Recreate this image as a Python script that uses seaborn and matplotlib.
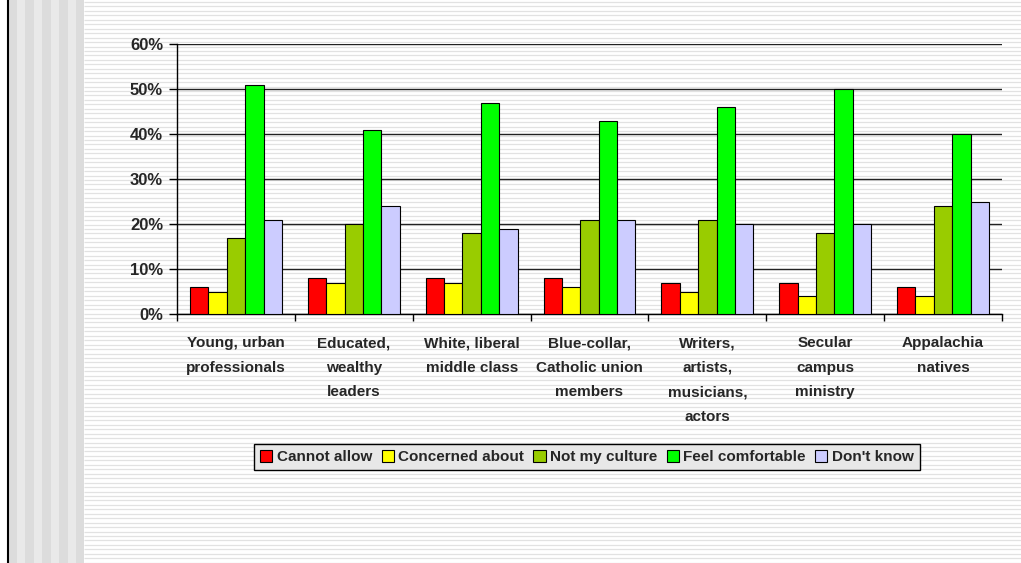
import numpy as np
import pandas as pd
import matplotlib
matplotlib.use("Agg")
import matplotlib.pyplot as plt
import seaborn as sns
from matplotlib.patches import Rectangle
from matplotlib.ticker import FuncFormatter, FixedLocator

categories = ["Young, urban\nprofessionals", "Educated,\nwealthy\nleaders",
              "White, liberal\nmiddle class", "Blue-collar,\nCatholic union\nmembers",
              "Writers,\nartists,\nmusicians,\nactors", "Secular\ncampus\nministry",
              "Appalachia\nnatives"]
series = ["Cannot allow", "Concerned about", "Not my culture", "Feel comfortable", "Don't know"]
cannot_allow = [6, 8, 8, 8, 7, 7, 6]
concerned_about = [5, 7, 7, 6, 5, 4, 4]
not_my_culture = [17, 20, 18, 21, 21, 18, 24]
feel_comfortable = [51, 41, 47, 43, 46, 50, 40]
dont_know = [21, 24, 19, 21, 20, 20, 25]
colors = ["#FF0000", "#FFFF00", "#99CC00", "#00FF00", "#CCCCFF"]
yticks = [0, 10, 20, 30, 40, 50, 60]

rows = []
for s, vals in zip(series, [cannot_allow, concerned_about, not_my_culture, feel_comfortable, dont_know]):
    for c, v in zip(categories, vals):
        rows.append({"category": c, "series": s, "value": v})
df = pd.DataFrame(rows)

sns.set_style("white")
plt.rcParams['font.family'] = ['Liberation Sans', 'DejaVu Sans']

W, H = 1021, 563
fig = plt.figure(figsize=(W / 100, H / 100), dpi=100)
fig.patch.set_facecolor("white")

# background slide decoration
bg = fig.add_axes([0, 0, 1, 1], zorder=-10)
bg.set_xlim(0, W)
bg.set_ylim(H, 0)
bg.axis("off")
x = 8
dark = True
while x < 84:
    w = 9 if dark else 8
    bg.add_patch(Rectangle((x, 0), min(w, 84 - x), H, color="#dcdcdc" if dark else "#e9e9e9", lw=0))
    x += w
    dark = not dark
bg.plot([7.5, 7.5], [0, H], color="black", lw=1.5)
for yy in np.arange(2, H, 4.45):
    bg.plot([84, W], [yy, yy], color="#e2e2e2", lw=0.9, solid_capstyle="butt")

ax = fig.add_axes([177 / W, 1 - 314 / H, (1002 - 177) / W, (314 - 44) / H])
ax.set_facecolor("none")
sns.barplot(data=df, x="category", y="value", hue="series", palette=colors,
            width=0.78, edgecolor="black", linewidth=0.8, ax=ax, legend=True,
            saturation=1, zorder=3)
ax.set_ylim(0, 60)
ax.set_xlim(-0.5, len(categories) - 0.5)
ax.set_yticks(yticks)
ax.yaxis.set_major_formatter(FuncFormatter(lambda v, p: f"{int(v)}%"))
ax.yaxis.grid(True, color="#222222", lw=1.0, zorder=0)
ax.set_axisbelow(True)
for sp in ["top", "right"]:
    ax.spines[sp].set_visible(False)
ax.spines["left"].set_color("black")
ax.spines["bottom"].set_color("black")
ax.spines["left"].set_linewidth(1.0)
ax.spines["bottom"].set_linewidth(1.0)
ax.set_xlabel("")
ax.set_ylabel("")
ax.tick_params(axis="y", which="both", left=True, length=6, width=1, color="black",
               labelsize=12, pad=4)
for t in ax.get_yticklabels():
    t.set_fontweight("bold")
# x ticks at category boundaries, labels centered
ax.set_xticks(np.arange(len(categories)))
ax.set_xticklabels(categories, fontsize=11, fontweight="bold", linespacing=1.95)
ax.tick_params(axis="x", which="major", length=0, pad=16)
ax.xaxis.set_minor_locator(FixedLocator(np.arange(-0.5, len(categories), 1.0)))
ax.tick_params(axis="x", which="minor", bottom=True, length=5, width=1, color="black")
for t in ax.get_xticklabels():
    t.set_va("top")

handles, labels = ax.get_legend_handles_labels()
ax.legend_.remove()
leg = fig.legend(handles, labels, loc="center", bbox_to_anchor=(587 / W, 1 - 457 / H),
                 ncol=5, frameon=True, fancybox=False, edgecolor="black",
                 facecolor="#e8e8e8", framealpha=1, handlelength=0.8, handleheight=0.8,
                 handletextpad=0.3, columnspacing=0.6, borderpad=0.4,
                 prop={"weight": "bold", "size": 11})
leg.get_frame().set_linewidth(1.0)

fig.savefig("out.png", dpi=100)
